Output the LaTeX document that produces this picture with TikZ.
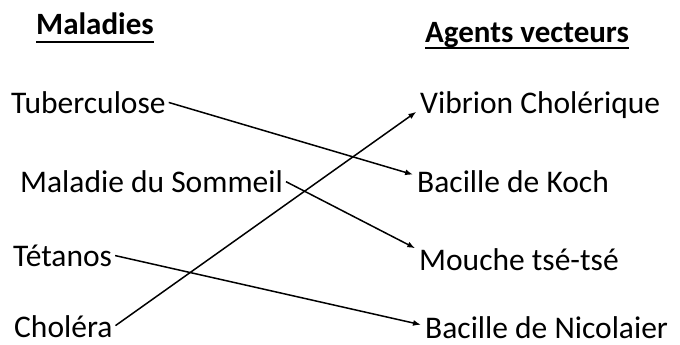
\documentclass[tikz,border=0pt]{standalone}
\usepackage{fontspec}
\setmainfont{Carlito}
\usetikzlibrary{arrows.meta}

\tikzset{
  titre/.style={anchor=base west,inner sep=0pt,font=\fontsize{31}{36}\selectfont\bfseries},
  terme/.style={anchor=base west},
  lien/.style={line width=1.5pt,shorten >=2pt,shorten <=1pt,-{Latex[length=8pt,width=6pt]}},
  souligne/.style={line width=1.8pt}
}

\begin{document}
\begin{tikzpicture}[x=1pt,y=-1pt,font=\fontsize{31.5}{36}\selectfont,every node/.style={inner sep=2pt}]
  \useasboundingbox (0,0) rectangle (680,345);
  % titres
  \node[titre] (mal) at (36,35) {Maladies};
  \node[titre] (agt) at (425,43) {Agents vecteurs};
  \draw[souligne] ([yshift=-7pt]mal.base west) -- ([yshift=-7pt]mal.base east);
  \draw[souligne] ([yshift=-5pt]agt.base west) -- ([yshift=-5pt]agt.base east);
  % maladies
  \node[terme] (tub) at (9,113) {Tuberculose};
  \node[terme] (som) at (18,192) {Maladie du Sommeil};
  \node[terme] (tet) at (11,266) {Tétanos};
  \node[terme] (cho) at (12,337) {Choléra};
  % agents
  \node[terme] (vib) at (418,113) {Vibrion Cholérique};
  \node[terme] (koc) at (415,192) {Bacille de Koch};
  \node[terme] (mou) at (417,270) {Mouche tsé-tsé};
  \node[terme] (nic) at (423,338) {Bacille de Nicolaier};
  % liens
  \draw[lien] (tub.east) -- ([yshift=6pt]koc.west);
  \draw[lien] (som.east) -- ([yshift=10pt]mou.west);
  \draw[lien] (tet.east) -- ([yshift=2pt]nic.west);
  \draw[lien] (cho.east) -- ([yshift=-6pt]vib.west);
\end{tikzpicture}
\end{document}
